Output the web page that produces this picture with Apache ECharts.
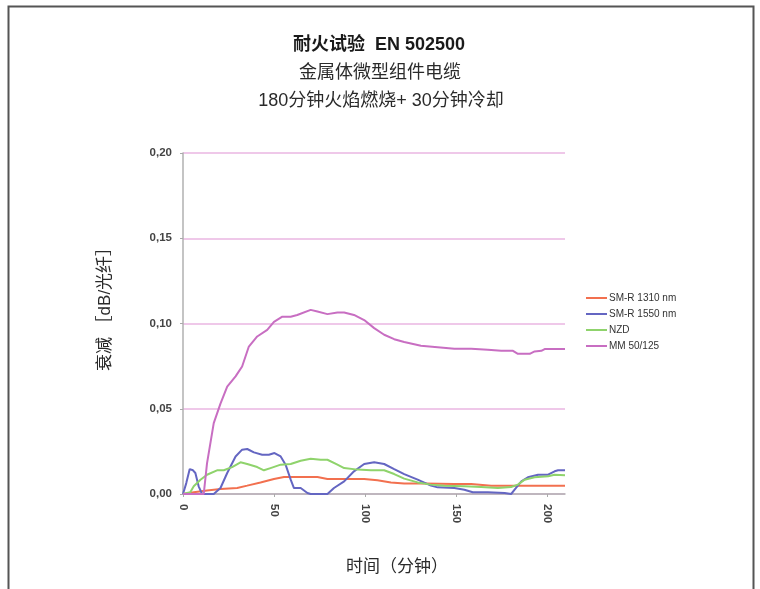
<!DOCTYPE html>
<html><head><meta charset="utf-8">
<script src="https://cdn.jsdelivr.net/npm/echarts@6/dist/echarts.min.js"></script>
<style>html,body{margin:0;padding:0;background:#fff}#c{width:760px;height:589px}</style>
</head><body><div id="c"></div>
<script>
const titleLines = ["耐火试验  EN 502500", "金属体微型组件电缆", "180分钟火焰燃烧+ 30分钟冷却"];
const yAxisName = "衰减 ［dB/光纤］";
const xAxisName = "时间（分钟）";
const seriesNames = ["SM-R 1310 nm", "SM-R 1550 nm", "NZD", "MM 50/125"];
const xTicks = [0, 50, 100, 150, 200];

const t1310 = [0, 5.9, 13.2, 20.6, 29.8, 35.3, 42.6, 50, 55.5, 62.8, 73.9, 79.4, 88.6, 99.6, 106.9, 114.3, 121.6, 132.7, 149.2, 158.4, 169.4, 176.8, 186, 210];
const v1310 = [0, 0.001, 0.0021, 0.0029, 0.0035, 0.0049, 0.0068, 0.0088, 0.010, 0.010, 0.010, 0.0088, 0.0088, 0.0088, 0.008, 0.0068, 0.0061, 0.0061, 0.0059, 0.0059, 0.0049, 0.0049, 0.0049, 0.0049];

const t1550 = [0, 1.8, 3.7, 5.5, 6.8, 8.6, 10.5, 16.9, 20.6, 24.3, 28.9, 32.5, 35.3, 39, 43.5, 47.2, 50.3, 53.7, 56.4, 59.2, 61, 64.7, 68.4, 70.2, 79.4, 83, 88.6, 94, 99.6, 105.1, 110.6, 116.1, 121.6, 129, 136.3, 140, 149.2, 154.7, 159.3, 167.6, 176.8, 180.4, 182.3, 186, 189.6, 195.2, 200.7, 204.3, 206.2, 210];
const v1550 = [0, 0.0064, 0.0146, 0.0139, 0.0123, 0.0045, 0, 0, 0.0035, 0.0123, 0.022, 0.026, 0.0264, 0.0244, 0.023, 0.023, 0.024, 0.022, 0.0172, 0.0084, 0.0035, 0.0035, 0.0006, 0, 0, 0.0035, 0.0074, 0.0133, 0.0176, 0.0186, 0.0176, 0.0146, 0.0117, 0.0084, 0.0049, 0.0039, 0.0035, 0.0025, 0.001, 0.001, 0.0006, 0, 0.0025, 0.0074, 0.0098, 0.0113, 0.0113, 0.0133, 0.0139, 0.0139];

const tNZD = [0, 4, 5.9, 9.6, 13.2, 18.7, 22.4, 27, 31.6, 35.3, 40.8, 44.5, 48.1, 53.7, 59.2, 64.7, 70.2, 75.7, 79.4, 84.9, 88.6, 95.9, 103.3, 110.6, 116.1, 121.6, 129, 136.3, 143.7, 154.7, 163.9, 173.1, 180.4, 184.1, 187.8, 193.3, 200.7, 204.3, 210];
const vNZD = [0, 0.001, 0.0045, 0.0084, 0.0113, 0.0139, 0.0139, 0.0158, 0.0186, 0.0176, 0.0158, 0.0139, 0.0152, 0.0172, 0.0176, 0.0195, 0.0207, 0.0201, 0.0201, 0.0172, 0.0152, 0.0143, 0.0139, 0.0139, 0.0117, 0.009, 0.0068, 0.0055, 0.0049, 0.0045, 0.0041, 0.0035, 0.0041, 0.0055, 0.0084, 0.0098, 0.0104, 0.0113, 0.011];

const tMM = [0, 11.4, 13.2, 16.9, 20.6, 24.3, 28.9, 32.5, 36.2, 40.8, 46.3, 50, 54.6, 59.2, 62.8, 70.2, 73.9, 79.4, 84.9, 88.6, 94, 99.6, 105.1, 110.6, 116.1, 121.6, 130.8, 140, 149.2, 158.4, 167.6, 174.9, 181.4, 184.1, 190.6, 193.3, 197, 198.8, 210];
const vMM = [0, 0, 0.018, 0.0416, 0.053, 0.063, 0.069, 0.0748, 0.0865, 0.0924, 0.0963, 0.101, 0.104, 0.104, 0.105, 0.108, 0.107, 0.1055, 0.1064, 0.1064, 0.105, 0.102, 0.0973, 0.0934, 0.0908, 0.0891, 0.0869, 0.0861, 0.0852, 0.0852, 0.0846, 0.084, 0.084, 0.0822, 0.0822, 0.0836, 0.084, 0.085, 0.085];

const colors = ["#f2704f", "#6466c2", "#8fd36c", "#c86ec2"];
const pair = (t, v) => t.map((x, i) => [x, v[i]]);
const seriesData = [pair(t1310, v1310), pair(t1550, v1550), pair(tNZD, vNZD), pair(tMM, vMM)];

const latin = "'Liberation Sans', Arial, 'Noto Sans CJK SC', sans-serif";
const chart = echarts.init(document.getElementById('c'), null, {renderer: 'canvas'});
chart.setOption({
  animation: false,
  backgroundColor: '#fff',
  color: colors,
  grid: {left: 183, right: 195, top: 153, bottom: 95, containLabel: false},
  graphic: [
    {type: 'rect', shape: {x: 8.5, y: 6.5, width: 745, height: 620}, style: {fill: 'none', stroke: '#555', lineWidth: 2}, z: 100},
    {type: 'text', x: 379, y: 45, style: {text: titleLines[0], font: "bold 18px " + latin, fill: '#1a1a1a', align: 'center', verticalAlign: 'middle'}},
    {type: 'text', x: 380, y: 73, style: {text: titleLines[1], font: "18px " + latin, fill: '#2a2a2a', align: 'center', verticalAlign: 'middle'}},
    {type: 'text', x: 381, y: 101, style: {text: titleLines[2], font: "18px " + latin, fill: '#2a2a2a', align: 'center', verticalAlign: 'middle'}},
    {type: 'text', x: 397, y: 567, style: {text: xAxisName, font: "17px " + latin, fill: '#2a2a2a', align: 'center', verticalAlign: 'middle'}},
    {type: 'text', x: 105, y: 305, rotation: Math.PI / 2, style: {text: yAxisName, font: "17px " + latin, fill: '#2a2a2a', align: 'center', verticalAlign: 'middle'}}
  ],
  legend: {
    orient: 'vertical', left: 581, top: 288, itemGap: 6, itemWidth: 21, itemHeight: 2, icon: 'rect',
    textStyle: {fontSize: 10, fontFamily: latin, color: '#333', padding: [0, 0, 0, -3]},
    data: seriesNames
  },
  xAxis: {
    type: 'value', min: 0, max: 210, interval: 50,
    axisLine: {show: true, lineStyle: {color: '#b0b0b0', width: 1.5}},
    axisTick: {show: true, length: 3, customValues: xTicks, lineStyle: {color: '#aaa'}},
    axisLabel: {customValues: xTicks, rotate: -90, margin: 10, fontSize: 11.5, fontWeight: 'bold', fontFamily: latin, color: '#444'},
    splitLine: {show: false}
  },
  yAxis: {
    type: 'value', min: 0, max: 0.2, interval: 0.05,
    axisLine: {show: true, lineStyle: {color: '#b0b0b0', width: 1.5}},
    axisTick: {show: true, length: 3, lineStyle: {color: '#aaa'}},
    axisLabel: {margin: 11, fontSize: 11.5, fontWeight: 'bold', fontFamily: latin, color: '#444',
      formatter: v => v.toFixed(2).replace('.', ',')},
    splitLine: {show: true, lineStyle: {color: '#eab6e2', width: 1.5}}
  },
  series: seriesNames.map((n, i) => ({
    name: n, type: 'line', data: seriesData[i], showSymbol: false, symbol: 'none',
    lineStyle: {width: 2, color: colors[i]}, itemStyle: {color: colors[i]}, z: i === 3 ? 3 : 2 + i * 0.1
  }))
});
</script></body></html>
